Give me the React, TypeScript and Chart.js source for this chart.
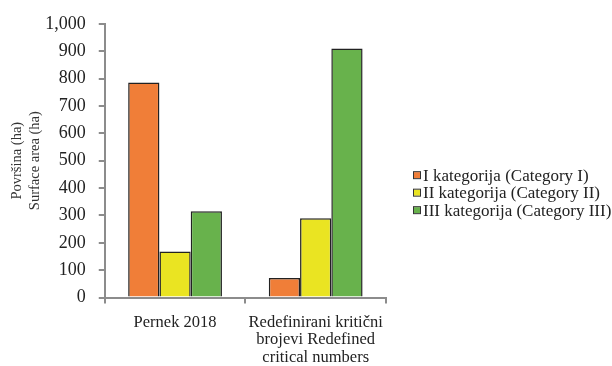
import React, { useEffect, useRef } from "react";
import { Chart, registerables } from "chart.js";

Chart.register(...registerables);

const categories: (string | string[])[] = [
  "Pernek 2018",
  ["Redefinirani kritični", "brojevi Redefined", "critical numbers"],
];
const seriesNames = [
  "I kategorija (Category I)",
  "II kategorija (Category II)",
  "III kategorija (Category III)",
];
const categoryI = [786, 71];
const categoryII = [168, 290];
const categoryIII = [315, 910];
const seriesColors = ["#F07E38", "#EAE422", "#68B24C"];
const yTitle = ["Površina (ha)", "Surface area (ha)"];

const SERIF = "'Liberation Serif', 'Times New Roman', serif";
const AXIS_GREY = "#8C8C8C";

// Legend drawn beside the plot: small outlined squares with tight text spacing.
const sideLegend = {
  id: "sideLegend",
  afterDraw(chart: Chart) {
    const ctx = chart.ctx;
    const area = chart.chartArea;
    const x0 = area.right + 28;
    const rowH = 17.5;
    const n = chart.data.datasets.length;
    const yMid = (area.top + area.bottom) / 2 + 32;
    ctx.save();
    ctx.font = `17px ${SERIF}`;
    ctx.textBaseline = "middle";
    ctx.textAlign = "left";
    chart.data.datasets.forEach((ds: any, i: number) => {
      const y = yMid + (i - (n - 1) / 2) * rowH;
      ctx.fillStyle = ds.backgroundColor;
      ctx.fillRect(x0, y - 3, 6, 6);
      ctx.strokeStyle = "#333";
      ctx.lineWidth = 1;
      ctx.strokeRect(x0 - 0.5, y - 3.5, 7, 7);
      ctx.fillStyle = "#222";
      ctx.fillText(ds.label, x0 + 9, y + 1);
    });
    ctx.restore();
  },
};

export default function App() {
  const canvasRef = useRef<HTMLCanvasElement | null>(null);

  useEffect(() => {
    if (!canvasRef.current) return;
    const values = [categoryI, categoryII, categoryIII];
    const chart = new Chart(canvasRef.current, {
      type: "bar",
      data: {
        labels: categories,
        datasets: seriesNames.map((name, i) => ({
          label: name,
          data: values[i],
          backgroundColor: seriesColors[i],
          borderColor: "#222",
          borderWidth: 1.5,
          borderSkipped: "bottom" as const,
          categoryPercentage: 0.667,
          barPercentage: 1,
        })),
      },
      options: {
        responsive: false,
        animation: false,
        // tick padding is counted twice in the axis size, so trim it back here
        layout: { padding: { left: 8, right: 226, top: 11, bottom: -10 } },
        plugins: {
          legend: { display: false },
          tooltip: { enabled: false },
        },
        scales: {
          x: {
            border: { color: AXIS_GREY, width: 2 },
            grid: {
              display: true,
              drawOnChartArea: false,
              tickLength: 6,
              color: AXIS_GREY,
              lineWidth: 2,
            },
            ticks: {
              color: "#222",
              padding: 10,
              autoSkip: false,
              font: { family: SERIF, size: 16.5, lineHeight: 1.06 },
              maxRotation: 0,
              minRotation: 0,
            },
          },
          y: {
            min: 0,
            max: 1000,
            border: { color: AXIS_GREY, width: 2 },
            grid: {
              display: true,
              drawOnChartArea: false,
              tickLength: 6,
              color: AXIS_GREY,
              lineWidth: 2,
            },
            ticks: {
              stepSize: 100,
              color: "#222",
              padding: 13,
              font: { family: SERIF, size: 18 },
              callback: (v: any) => Number(v).toLocaleString("en-US"),
            },
            title: {
              display: true,
              text: yTitle,
              color: "#333",
              font: { family: SERIF, size: 14.5, lineHeight: 1.25 },
              padding: { top: 0, bottom: -12 },
            },
          },
        },
      },
      plugins: [sideLegend],
    });
    return () => chart.destroy();
  }, []);

  return (
    <div style={{ position: "fixed", left: 0, top: 0, width: 612, height: 366, background: "#fff" }}>
      <canvas ref={canvasRef} width={612} height={366} />
    </div>
  );
}
